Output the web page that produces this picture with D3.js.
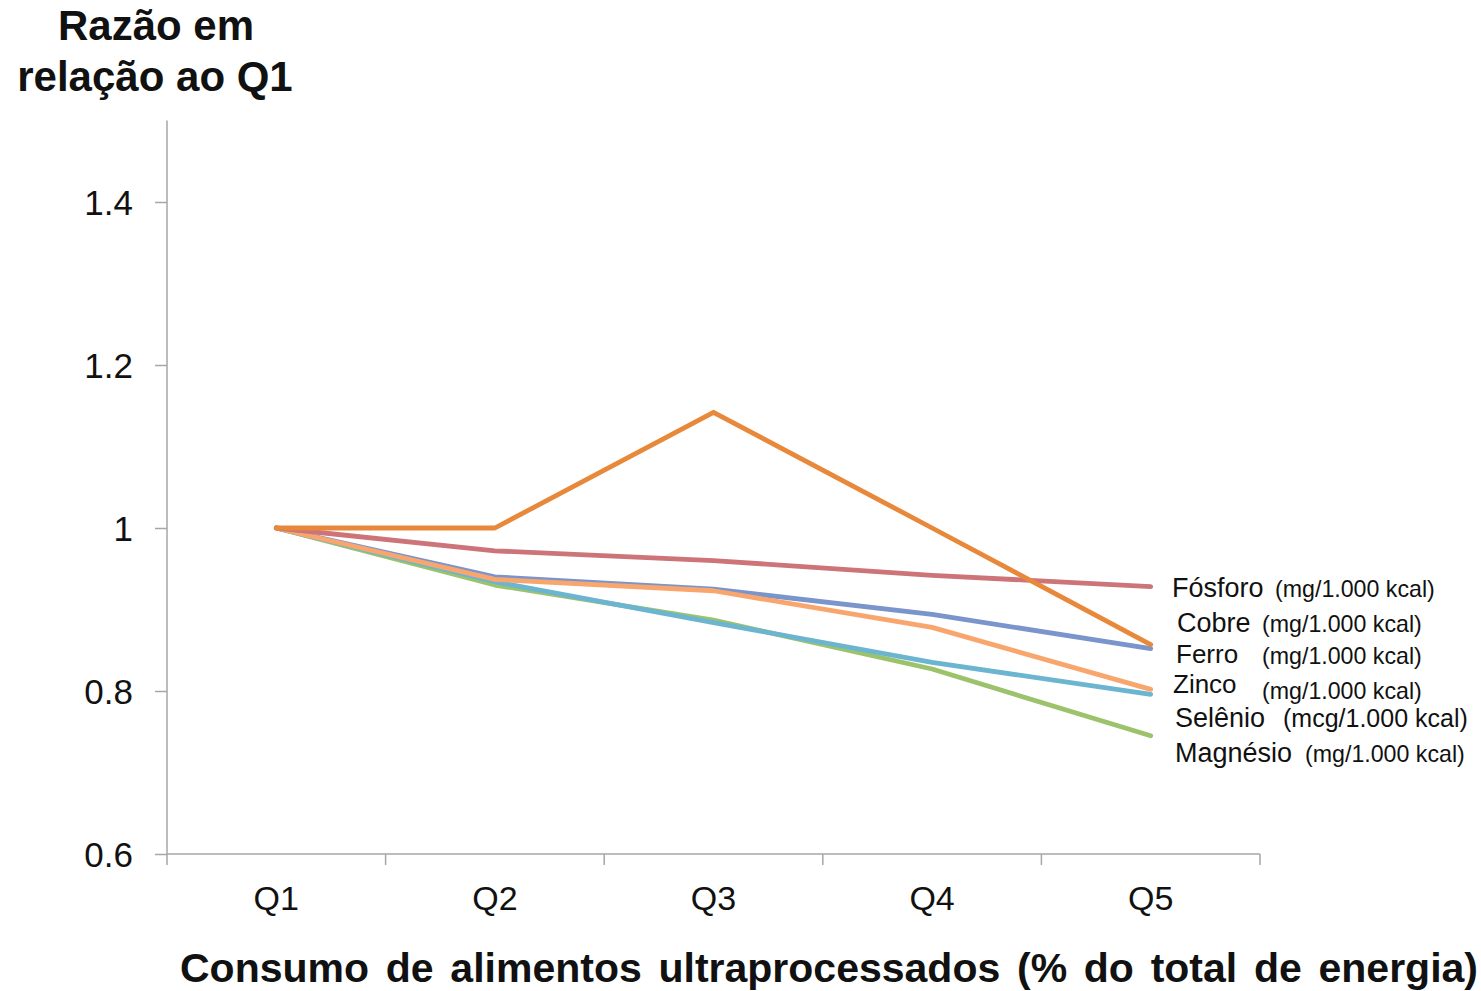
<!DOCTYPE html>
<html>
<head>
<meta charset="utf-8">
<script src="https://cdn.jsdelivr.net/npm/d3@7"></script>
<style>
  html, body { margin: 0; padding: 0; background: #fff; }
  svg { display: block; font-family: "Liberation Sans", Arial, sans-serif; }
</style>
</head>
<body>
<svg id="chart" width="1481" height="991"></svg>
<script>
// Quintiles of ultra-processed food consumption
const categories = ["Q1", "Q2", "Q3", "Q4", "Q5"];

// Ratio to Q1 for each nutrient density
const fosforo  = [1.000, 0.972, 0.960, 0.942, 0.928];
const cobre    = [1.000, 1.000, 1.142, 1.000, 0.857];
const ferro    = [1.000, 0.940, 0.925, 0.894, 0.852];
const zinco    = [1.000, 0.937, 0.923, 0.878, 0.802];
const selenio  = [1.000, 0.934, 0.884, 0.835, 0.796];
const magnesio = [1.000, 0.930, 0.887, 0.827, 0.745];

const yTicks = [0.6, 0.8, 1.0, 1.2, 1.4];
const yTickLabels = ["0.6", "0.8", "1", "1.2", "1.4"];

const seriesNames = ["Fósforo", "Cobre", "Ferro", "Zinco", "Selênio", "Magnésio"];
const seriesUnits = ["(mg/1.000 kcal)", "(mg/1.000 kcal)", "(mg/1.000 kcal)", "(mg/1.000 kcal)", "(mcg/1.000 kcal)", "(mg/1.000 kcal)"];
const seriesValues = [fosforo, cobre, ferro, zinco, selenio, magnesio];
const seriesColors = ["#cd7479", "#e8883a", "#7a94cc", "#f9a66e", "#6bb5d0", "#9cc36b"];
// drawing order (back to front)
const drawOrder = [2, 5, 4, 3, 0, 1];

const svg = d3.select("#chart");

const plot = { left: 167, right: 1260, top: 120.5, bottom: 854 };

const x = d3.scaleBand().domain(categories).range([plot.left, plot.right]);
const y = d3.scaleLinear().domain([0.6, 1.5]).range([plot.bottom, plot.top]);
const cx = c => x(c) + x.bandwidth() / 2;

const axisColor = "#a6a6a6";

// Y axis
const yAxis = d3.axisLeft(y).tickValues(yTicks)
  .tickFormat((d, i) => yTickLabels[i]).tickSize(12).tickPadding(22);
const gy = svg.append("g").attr("transform", `translate(${plot.left},0)`).call(yAxis);
gy.select(".domain").attr("stroke", axisColor).attr("stroke-width", 1.5)
  .attr("d", `M0,${plot.top}V${plot.bottom}`);
gy.selectAll(".tick line").attr("stroke", axisColor).attr("stroke-width", 1.5);
gy.selectAll(".tick text").attr("fill", "#111").style("font-size", "35px")
  .attr("dy", "0.36em").attr("font-family", "Liberation Sans, Arial, sans-serif");

// X axis: labels centred in each band, tick marks at band edges
const xAxisG = svg.append("g").attr("transform", `translate(0,${plot.bottom})`);
xAxisG.append("line").attr("x1", plot.left).attr("x2", plot.right)
  .attr("stroke", axisColor).attr("stroke-width", 1.5);
const edges = categories.map(c => x(c)).concat([x(categories[categories.length - 1]) + x.bandwidth()]);
xAxisG.selectAll("line.xt").data(edges).join("line").attr("class", "xt")
  .attr("x1", d => d).attr("x2", d => d).attr("y1", 0).attr("y2", 11)
  .attr("stroke", axisColor).attr("stroke-width", 1.5);
xAxisG.selectAll("text.xl").data(categories).join("text").attr("class", "xl")
  .attr("x", d => cx(d)).attr("y", 56).attr("text-anchor", "middle")
  .attr("fill", "#111").style("font-size", "34px").text(d => d);

// Lines
const line = d3.line().x((d, i) => cx(categories[i])).y(d => y(d));
svg.append("g").selectAll("path").data(drawOrder).join("path")
  .attr("d", k => line(seriesValues[k]))
  .attr("fill", "none").attr("stroke", k => seriesColors[k])
  .attr("stroke-width", 4.8).attr("stroke-linejoin", "round").attr("stroke-linecap", "round");

// Series labels at the right
const labelPos = [
  { x: 1172, y: 597, ns: 27, ux: 1275, uy: 597, us: 23.2 },
  { x: 1177, y: 632, ns: 27, ux: 1262, uy: 632, us: 23.2 },
  { x: 1176, y: 663, ns: 26, ux: 1262, uy: 664, us: 23.2 },
  { x: 1173, y: 693, ns: 26, ux: 1262, uy: 699, us: 23.2 },
  { x: 1175, y: 727, ns: 27, ux: 1283, uy: 727, us: 25 },
  { x: 1175, y: 762, ns: 27, ux: 1305, uy: 762, us: 23.2 }
];
const lg = svg.append("g").attr("fill", "#111");
seriesNames.forEach((n, i) => {
  const p = labelPos[i];
  lg.append("text").attr("x", p.x).attr("y", p.y).style("font-size", p.ns + "px").text(n);
  lg.append("text").attr("x", p.ux).attr("y", p.uy).style("font-size", p.us + "px").text(seriesUnits[i]);
});

// Axis titles
const yt = svg.append("text").attr("font-weight", "bold").attr("fill", "#111")
  .style("font-size", "42px").attr("text-anchor", "middle");
yt.append("tspan").attr("x", 156).attr("y", 40).text("Razão em");
yt.append("tspan").attr("x", 155).attr("y", 91).text("relação ao Q1");

const xTitle = svg.append("text").attr("x", 180).attr("y", 982).attr("font-weight", "bold")
  .attr("fill", "#111").style("font-size", "41px")
  .text("Consumo de alimentos ultraprocessados (% do total de energia)");
// spread the words so the title spans the full width
const natural = xTitle.node().getComputedTextLength();
const gaps = xTitle.text().split(" ").length - 1;
xTitle.attr("word-spacing", Math.max(0, (1298 - natural) / gaps));
</script>
</body>
</html>
